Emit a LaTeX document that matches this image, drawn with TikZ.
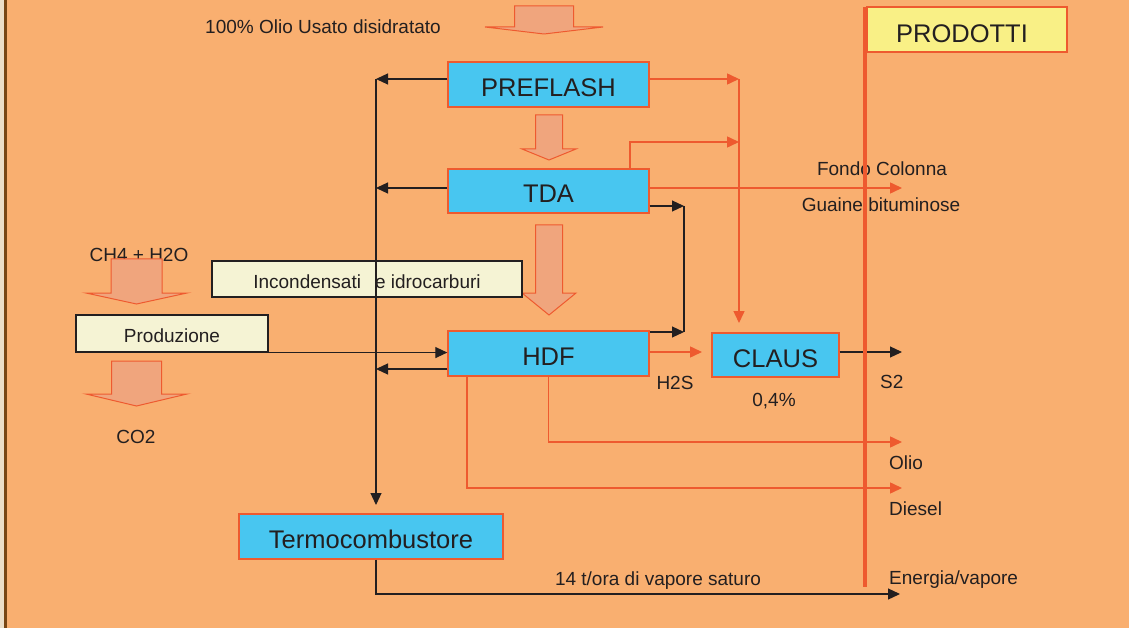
\documentclass[tikz,border=0pt]{standalone}
\usepackage{fontspec}
\setmainfont{Liberation Sans}
\usetikzlibrary{arrows.meta}
\definecolor{bg}{RGB}{249,175,112}
\definecolor{cyanbox}{RGB}{72,198,240}
\definecolor{ored}{RGB}{238,90,47}
\definecolor{salmon}{RGB}{240,165,125}
\definecolor{cream}{RGB}{245,243,212}
\definecolor{yel}{RGB}{249,240,134}
\definecolor{ink}{RGB}{35,31,32}
\definecolor{edgebrown}{RGB}{120,70,20}
\definecolor{edgelight}{RGB}{236,222,200}
\newcommand\fatarrow[6]{\draw[fatarr] (#1-#5,#2) -- (#1+#5,#2) -- (#1+#5,#3) -- (#1+#6,#3) -- (#1,#4) -- (#1-#6,#3) -- (#1-#5,#3) -- cycle;}
\begin{document}
\begin{tikzpicture}[x=1pt,y=-1pt,
  proc/.style={draw=ored, line width=1.4pt, fill=cyanbox, text=ink, font=\fontsize{25.5}{28}\selectfont, inner sep=0pt, text height=24pt, text depth=0pt},
  note/.style={draw=ink, line width=1.1pt, fill=cream, text=ink, font=\fontsize{19}{22}\selectfont, inner sep=0pt, text height=18.5pt, text depth=0pt},
  lbl/.style={text=ink, font=\fontsize{19}{22}\selectfont, inner sep=0pt},
  fatarr/.style={draw=ored, line width=1pt, fill=salmon},
  blk/.style={draw=ink, line width=1.2pt, -{Triangle[length=12pt,width=11pt]}},
  blkline/.style={draw=ink, line width=1.2pt},
  org/.style={draw=ored, line width=1.5pt, -{Triangle[length=12pt,width=11pt]}},
  orgline/.style={draw=ored, line width=1.5pt},
]
% background
\fill[bg] (0,0) rectangle (1129,628);
\fill[edgelight] (0,0) rectangle (3.5,628);
\fill[edgebrown] (3.5,0) rectangle (6.5,628);
\useasboundingbox (0,0) rectangle (1129,628);

% texts under arrows
\node[lbl] (olioin) at (323,27) {100\% Olio Usato disidratato};
\node[lbl] (ch4) at (139,255) {CH4 + H2O};
\node[lbl] (co2) at (136,437) {CO2};

% fat arrows
\fatarrow{544}{6}{27}{34}{29.5}{59}
\fatarrow{549}{115}{149}{160}{13.5}{27}
\fatarrow{549}{225}{293}{315}{13.5}{27}
\fatarrow{136.5}{259}{293}{304}{25.5}{50.5}
\fatarrow{136.5}{361}{394}{406}{25}{50.5}

% boxes
\node[proc, minimum width=201pt, minimum height=45pt] (pre) at (548.5,84.5) {PREFLASH};
\node[proc, minimum width=201pt, minimum height=44pt] (tda) at (548.5,191) {TDA};
\node[proc, minimum width=201pt, minimum height=45pt] (hdf) at (548.5,353.5) {HDF};
\node[proc, minimum width=127pt, minimum height=44pt] (claus) at (775.5,355) {CLAUS};
\node[proc, minimum width=264pt, minimum height=45pt] (termo) at (371,536.5) {Termocombustore\hspace{8pt}};
\node[note, minimum width=310pt, minimum height=36pt] (incond) at (367,279) {Incondensati\hspace{14pt}e idrocarburi\hspace{10pt}};
\node[note, minimum width=192pt, minimum height=37pt] (prod) at (172,333.5) {Produzione};

% coordinates
\coordinate (busTop) at (376,79);
\coordinate (busTDA) at (376,188);
\coordinate (busHDF) at (376,369);
\coordinate (busEnd) at (376,505);
\coordinate (oTop) at (739,79);
\coordinate (oMid) at (739,142);
\coordinate (tdaUp) at (630,142);
\coordinate (clausIn) at (739,323);
\coordinate (fondo) at (902,188);
\coordinate (cTop) at (684,206);
\coordinate (cBot) at (684,332);
\coordinate (h2sIn) at (702,352);
\coordinate (s2) at (902,352);
\coordinate (olio) at (902,442);
\coordinate (dslX) at (467,488);
\coordinate (dsl) at (902,488);
\coordinate (vap) at (900,594);
\coordinate (redTop) at (865,7);
\coordinate (redBot) at (865,587);

% black connectors
\draw[blk] (busTop) -- (busEnd);
\draw[blk] (pre.west |- busTop) -- (busTop);
\draw[blk] (tda.west |- busTDA) -- (busTDA);
\draw[blk] (hdf.west |- busHDF) -- (busHDF);
\draw[blk] (prod.south east) -- (hdf.west |- prod.south east);
\draw[blk] (tda.east |- cTop) -- (cTop);
\draw[blk] (hdf.east |- cBot) -- (cBot);
\draw[blkline] (cTop) -- (cBot);
\draw[blk] (claus.east |- s2) -- (s2);
\draw[blk] (termo.south -| busEnd) |- (vap);

% orange connectors
\draw[org] (pre.east |- oTop) -- (oTop);
\draw[org] (oTop) -- (clausIn);
\draw[org] (tda.north -| tdaUp) -- (tdaUp) -- (oMid);
\draw[org] (tda.east |- busTDA) -- (fondo);
\draw[org] (hdf.east |- h2sIn) -- (h2sIn);
\draw[org] (hdf.south) |- (olio);
\draw[org] (hdf.south -| dslX) |- (dsl);

% labels
\node[lbl] (fondoL) at (882,169) {Fondo Colonna};
\node[lbl] (guaine) at (881,205) {Guaine bituminose};
\node[lbl] (h2s) at (675,383) {H2S};
\node[lbl] (perc) at (774,401) {0,4\%};
\node[lbl, anchor=west] (s2L) at (880,382) {S2};
\node[lbl, anchor=west] (olioL) at (889,463) {Olio};
\node[lbl, anchor=west] (dslL) at (889,509) {Diesel};
\node[lbl, anchor=west] (enL) at (889,580) {Energia/vapore};
\node[lbl] (vapL) at (658,581) {14 t/ora di vapore saturo};

% products bar
\draw[ored, line width=4pt] (redTop) -- (redBot);
\node[draw=ored, line width=1.4pt, fill=yel, minimum width=200pt, minimum height=45pt, inner sep=0pt] (prodotti) at (967,29.5) {};
\node[text=ink, font=\fontsize{25.5}{28}\selectfont, inner sep=0pt] (prodottiT) at (962,34) {PRODOTTI};
\end{tikzpicture}
\end{document}
